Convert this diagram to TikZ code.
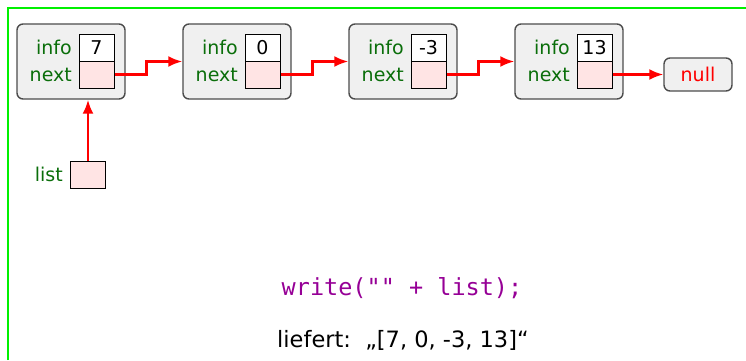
\documentclass[tikz,border=0pt]{standalone}
\usepackage{fontspec}
\setmainfont{DejaVu Sans}
\setmonofont{DejaVu Sans Mono}
\usetikzlibrary{arrows.meta}
\definecolor{lblgreen}{RGB}{10,110,10}
\definecolor{codepurple}{RGB}{150,0,150}
\definecolor{cellpink}{RGB}{255,228,228}
\definecolor{elemgray}{RGB}{240,240,240}
\definecolor{framegreen}{RGB}{0,240,0}
\begin{document}
\begin{tikzpicture}[x=1pt,y=-1pt,
  elem/.style={draw=black!70, fill=elemgray, rounded corners=6pt, line width=1.4pt,
    minimum width=108pt, minimum height=75pt, inner sep=0pt},
  infobox/.style={draw=black, fill=white, line width=1pt, minimum width=35pt,
    minimum height=27pt, inner sep=0pt, font=\fontsize{19}{21}\selectfont},
  nextbox/.style={infobox, fill=cellpink},
  lbl/.style={text=lblgreen, anchor=east, inner sep=0pt, font=\fontsize{19}{21}\selectfont},
  nullbox/.style={draw=black!70, fill=elemgray, rounded corners=6pt, line width=1.4pt,
    minimum width=68pt, minimum height=33pt, inner sep=0pt, text=red,
    font=\fontsize{19}{21}\selectfont},
  ptr/.style={red, line width=2.4pt, -{Latex[length=14pt,width=11pt]}},
  frameline/.style={framegreen, line width=1.5pt}
]
\useasboundingbox (0,0) rectangle (746,360);
\draw[frameline] (8,360) -- (8,8) -- (746,8);

\foreach \i/\v in {1/7,2/0,3/-3,4/13}{
  \pgfmathsetmacro{\ox}{(\i-1)*166}
  \node[elem] (n\i) at (71+\ox,61.5) {};
  \node[infobox] (n\i info) at (96.5+\ox,47.5) {\v};
  \node[nextbox] (n\i next) at (96.5+\ox,74.5) {};
  \node[lbl] (n\i infol) at (72+\ox,47) {info};
  \node[lbl] (n\i nextl) at (72+\ox,75) {next};
}
\node[nullbox] (null) at (698,74.5) {null};

\draw[ptr] (n1next.east) -- ++(32,0) |- (n2.west);
\draw[ptr] (n2next.east) -- ++(32,0) |- (n3.west);
\draw[ptr] (n3next.east) -- ++(32,0) |- (n4.west);
\draw[ptr] (n4next.east) -- (null.west);

\node[nextbox] (listbox) at (88,174.5) {};
\node[lbl] (listl) at (63,174.5) {list};
\draw[ptr] (listbox.north) -- (listbox.north |- n1.south);

\node[text=codepurple, font=\ttfamily\fontsize{23.5}{26}\selectfont] (code) at (402,288) {write("" + list);};
\node[font=\fontsize{22.5}{24}\selectfont] (res) at (403,340) {liefert:\ \ „[7, 0, -3, 13]“};
\end{tikzpicture}
\end{document}
